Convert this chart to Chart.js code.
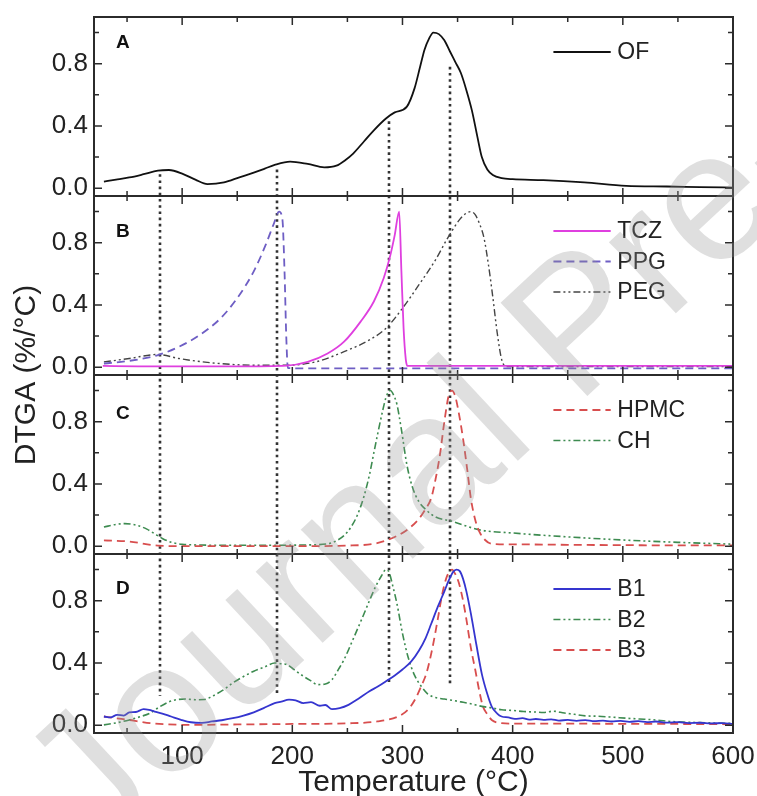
<!DOCTYPE html>
<html>
<head>
<meta charset="utf-8">
<title>DTGA</title>
<script src="https://cdn.jsdelivr.net/npm/chart.js@4.4.1/dist/chart.umd.min.js"></script>
<style>
  html, body { margin: 0; padding: 0; background: #fff; }
  canvas { display: block; }
</style>
</head>
<body>
<canvas id="dtgaChart" width="757" height="796"></canvas>
<script>
// Normalised DTGA curves (%/°C) against temperature (°C)

// A: oral film
const ofTemp = [29, 40, 52, 65, 78, 88, 101, 112, 123, 138, 152, 165, 175, 184, 198, 214, 229, 240, 248, 255,
  265, 274, 285, 293, 304, 311, 316, 320, 324, 328, 333, 338, 343, 348, 353, 358, 363, 368, 372, 377,
  382, 390, 400, 428, 465, 503, 540, 570, 600];
const ofDtga = [0.043, 0.055, 0.069, 0.09, 0.113, 0.117, 0.091, 0.055, 0.026, 0.037, 0.07, 0.10, 0.126, 0.15, 0.171, 0.156, 0.134, 0.145, 0.18, 0.221,
  0.30, 0.372, 0.448, 0.487, 0.524, 0.643, 0.78, 0.89, 0.96, 1.0, 0.99, 0.95, 0.88, 0.81, 0.74, 0.63, 0.50, 0.33, 0.20, 0.12,
  0.085, 0.065, 0.058, 0.052, 0.037, 0.015, 0.011, 0.007, 0.004];

// B: drug and plasticisers
const tczTemp = [28, 60, 100, 150, 195, 214, 232, 247, 262, 274, 283, 289, 293, 297, 299, 301, 303, 304.5, 330, 400, 500, 600];
const tczDtga = [0.008, 0.006, 0.005, 0.005, 0.01, 0.034, 0.088, 0.164, 0.293, 0.422, 0.573, 0.72, 0.85, 1.0, 0.62, 0.25, 0.05, 0.008, 0.008, 0.008, 0.008, 0.008];

const ppgTemp = [29, 52, 78, 97, 116, 135, 150, 165, 176, 183, 188, 191, 193, 194.5, 196, 220, 300, 400, 500, 600];
const ppgDtga = [0.024, 0.041, 0.078, 0.131, 0.207, 0.315, 0.444, 0.616, 0.789, 0.918, 1.0, 0.95, 0.6, 0.2, -0.005, -0.008, -0.008, -0.008, -0.008, -0.008];

const pegTemp = [29, 52, 78, 97, 127, 165, 195, 221, 247, 270, 285, 300, 315, 330, 341, 352, 358, 362, 366, 370,
  374, 378, 382, 386, 390, 394, 420, 500, 600];
const pegDtga = [0.034, 0.056, 0.082, 0.056, 0.028, 0.013, 0.013, 0.034, 0.10, 0.175, 0.25, 0.379, 0.53, 0.69, 0.83, 0.95, 0.99, 1.0, 0.98, 0.92,
  0.83, 0.66, 0.45, 0.22, 0.05, 0.005, 0.005, 0.005, 0.005];

// C: film-forming polymers
const hpmcTemp = [29, 52, 78, 108, 150, 200, 250, 277, 296, 306, 315, 321, 326, 330, 334, 338, 342, 345, 348, 351,
  355, 359, 362, 366, 370, 375, 381, 400, 450, 500, 550, 600];
const hpmcDtga = [0.037, 0.03, 0.004, 0.0, 0.0, 0.0, 0.004, 0.02, 0.07, 0.115, 0.177, 0.24, 0.307, 0.43, 0.587, 0.80, 0.97, 1.0, 0.96, 0.86,
  0.69, 0.48, 0.31, 0.17, 0.09, 0.04, 0.015, 0.012, 0.009, 0.007, 0.005, 0.005];

const chTemp = [29, 40, 48, 59, 68, 75, 82, 90, 100, 108, 140, 180, 210, 232, 240, 247, 253, 259, 265, 270,
  274, 278, 282, 285, 289, 292, 295, 299, 304, 309, 315, 322, 330, 345, 370, 400, 450, 500, 550, 600];
const chDtga = [0.123, 0.14, 0.145, 0.134, 0.11, 0.08, 0.05, 0.026, 0.012, 0.009, 0.006, 0.006, 0.008, 0.015, 0.035, 0.069, 0.12, 0.199, 0.32, 0.458,
  0.6, 0.739, 0.87, 0.955, 1.0, 0.97, 0.91, 0.75, 0.523, 0.38, 0.285, 0.23, 0.188, 0.16, 0.105, 0.085, 0.06, 0.04, 0.025, 0.013];

// D: blends
const b1Temp = [29, 35, 41, 47, 52, 58, 65, 70, 75, 82, 90, 99, 108, 118, 127, 136, 146, 155, 165, 174,
  184, 190, 197, 203, 210, 217, 225, 230, 236, 243, 251, 260, 270, 278, 285, 293, 300, 308, 315, 321,
  326, 332, 338, 342, 346, 349, 352, 355, 358, 362, 367, 372, 377, 381, 386, 390, 396, 402, 409, 415,
  421, 428, 435, 442, 450, 458, 466, 474, 482, 490, 498, 506, 514, 522, 530, 540, 550, 560, 570, 580,
  590, 600];
const b1Dtga = [0.056, 0.05, 0.067, 0.062, 0.082, 0.085, 0.103, 0.098, 0.088, 0.075, 0.056, 0.035, 0.019, 0.015, 0.024, 0.032, 0.045, 0.06, 0.082, 0.11,
  0.142, 0.152, 0.164, 0.16, 0.142, 0.148, 0.125, 0.13, 0.103, 0.11, 0.131, 0.17, 0.218, 0.25, 0.282, 0.32, 0.358, 0.41, 0.48, 0.56,
  0.65, 0.76, 0.86, 0.93, 0.985, 1.0, 0.99, 0.94, 0.86, 0.72, 0.52, 0.33, 0.2, 0.12, 0.075, 0.056, 0.05, 0.041, 0.045, 0.036,
  0.04, 0.034, 0.038, 0.03, 0.034, 0.028, 0.033, 0.026, 0.03, 0.024, 0.028, 0.022, 0.026, 0.02, 0.024, 0.017, 0.02, 0.014, 0.016, 0.012,
  0.013, 0.009];

const b2Temp = [29, 40, 52, 62, 71, 80, 88, 95, 103, 112, 120, 127, 137, 146, 155, 165, 175, 184, 190, 195,
  202, 210, 217, 223, 230, 236, 242, 247, 255, 263, 270, 276, 281, 285, 288, 291, 295, 300, 305, 311,
  317, 323, 330, 338, 345, 353, 362, 372, 382, 390, 400, 410, 420, 428, 437, 447, 456, 466, 476, 490,
  503, 515, 528, 540, 555, 570, 585, 600];
const b2Dtga = [0.002, 0.015, 0.034, 0.055, 0.078, 0.12, 0.15, 0.164, 0.168, 0.164, 0.165, 0.185, 0.225, 0.272, 0.31, 0.347, 0.375, 0.40, 0.395, 0.39,
  0.355, 0.315, 0.285, 0.261, 0.265, 0.293, 0.36, 0.422, 0.55, 0.681, 0.8, 0.897, 0.96, 1.0, 0.98, 0.9, 0.78, 0.59, 0.44, 0.32,
  0.25, 0.2, 0.178, 0.168, 0.16, 0.15, 0.138, 0.121, 0.11, 0.099, 0.095, 0.088, 0.085, 0.082, 0.09, 0.078, 0.07, 0.06, 0.058, 0.052,
  0.045, 0.04, 0.035, 0.026, 0.02, 0.017, 0.014, 0.012];

const b3Temp = [29, 40, 52, 62, 71, 85, 108, 150, 200, 250, 277, 296, 305, 311, 317, 322, 327, 332, 336, 340,
  343, 345, 348, 351, 355, 358, 362, 366, 370, 373, 377, 381, 390, 400, 450, 500, 550, 600];
const b3Dtga = [0.056, 0.045, 0.034, 0.022, 0.013, 0.006, 0.002, 0.005, 0.008, 0.012, 0.024, 0.056, 0.1, 0.16, 0.25, 0.34, 0.49, 0.68, 0.84, 0.95,
  0.99, 1.0, 0.97, 0.918, 0.8, 0.68, 0.5, 0.358, 0.21, 0.121, 0.07, 0.034, 0.013, 0.01, 0.01, 0.009, 0.008, 0.006];

// dotted guide lines at the film's decomposition steps
const markerTemps = [80, 186, 288, 343];
const markerTop = [0.09, 0.12, 0.43, 0.78];
const markerBottom = [0.19, 0.19, 0.27, 0.27];

const xTicks = [100, 200, 300, 400, 500, 600];
const xMinorTicks = [50, 150, 250, 350, 450, 550];
const yTicks = [0.0, 0.4, 0.8];
const yMinorTicks = [0.2, 0.6, 1.0];
const panelLetters = ['A', 'B', 'C', 'D'];

const FONT = "'Liberation Sans', Arial, Helvetica, sans-serif";
const INK = '#222';
const DASH = [8, 5];
const DASH_DOT_DOT = [7, 3, 2, 3, 2, 3];

function toPoints(temps, values) {
  return temps.map((t, i) => ({ x: t, y: values[i] }));
}

function series(label, temps, values, axis, color, dash, width) {
  return {
    label,
    data: toPoints(temps, values),
    yAxisID: axis,
    borderColor: color,
    borderDash: dash || [],
    borderWidth: width || 1.8,
    pointRadius: 0,
    fill: false,
    cubicInterpolationMode: 'monotone'
  };
}

function panelAxis(weight) {
  return {
    type: 'linear',
    position: 'left',
    stack: 'panels',
    stackWeight: 1,
    weight: weight,
    min: -0.05,
    max: 1.1,
    afterBuildTicks: s => { s.ticks = yTicks.map(v => ({ value: v })); },
    afterFit: s => { s.width = 94; s.paddingTop = 0; s.paddingBottom = 0; },
    grid: { display: false, drawTicks: false },
    border: { display: false },
    ticks: {
      padding: 6,
      color: INK,
      font: { family: FONT, size: 26 },
      callback: v => v.toFixed(1)
    }
  };
}

const panelIds = ['yA', 'yB', 'yC', 'yD'];

// frames, inward ticks, guide lines, panel letters, legends and titles
const panelDecor = {
  id: 'panelDecor',
  beforeDatasetsDraw(chart) {
    const { ctx, scales } = chart;
    const x = scales.x;
    ctx.save();
    ctx.strokeStyle = '#333';
    ctx.lineWidth = 2.6;
    ctx.setLineDash([2.6, 3.6]);
    markerTemps.forEach((t, i) => {
      const px = Math.round(x.getPixelForValue(t));
      ctx.beginPath();
      ctx.moveTo(px, scales.yA.getPixelForValue(markerTop[i]));
      ctx.lineTo(px, scales.yD.getPixelForValue(markerBottom[i]));
      ctx.stroke();
    });
    ctx.restore();
  },
  afterDatasetsDraw(chart) {
    const { ctx, scales } = chart;
    const x = scales.x;
    const letterDrop = [26, 36, 39, 35];
    ctx.save();
    panelIds.forEach((id, p) => {
      const y = scales[id];
      const top = y.top, bottom = y.bottom, left = x.left, right = x.right;

      ctx.strokeStyle = '#2b2b2b';
      ctx.lineWidth = 1.5;
      ctx.beginPath();
      const tick = (vals, len) => {
        vals.forEach(v => {
          const px = x.getPixelForValue(v);
          ctx.moveTo(px, top); ctx.lineTo(px, top + len);
          ctx.moveTo(px, bottom); ctx.lineTo(px, bottom - len);
        });
      };
      const ytick = (vals, len) => {
        vals.forEach(v => {
          const py = y.getPixelForValue(v);
          ctx.moveTo(left, py); ctx.lineTo(left + len, py);
          ctx.moveTo(right, py); ctx.lineTo(right - len, py);
        });
      };
      tick(xTicks, 8);
      tick(xMinorTicks, 5);
      ytick(yTicks, 8);
      ytick(yMinorTicks, 5);
      ctx.stroke();

      ctx.lineWidth = 2;
      ctx.strokeRect(left, top, right - left, bottom - top);

      ctx.fillStyle = '#111';
      ctx.font = `bold 19px ${FONT}`;
      ctx.textAlign = 'left';
      ctx.textBaseline = 'middle';
      ctx.fillText(panelLetters[p], left + 22, top + letterDrop[p]);

      // legend for the curves of this panel
      const sets = chart.data.datasets.filter(d => d.yAxisID === id);
      const x0 = x.getPixelForValue(437), x1 = x.getPixelForValue(489), xt = x.getPixelForValue(495);
      sets.forEach((d, i) => {
        const ly = top + 35 + i * 30.5;
        ctx.save();
        ctx.strokeStyle = d.borderColor;
        ctx.lineWidth = d.borderWidth;
        ctx.setLineDash(d.borderDash);
        ctx.beginPath();
        ctx.moveTo(x0, ly);
        ctx.lineTo(x1, ly);
        ctx.stroke();
        ctx.restore();
        ctx.fillStyle = INK;
        ctx.font = `23px ${FONT}`;
        ctx.textBaseline = 'middle';
        ctx.fillText(d.label, xt, ly + 1);
      });
    });
    ctx.restore();
  },
  afterDraw(chart) {
    const { ctx, chartArea } = chart;
    ctx.save();
    ctx.fillStyle = INK;
    ctx.font = `30px ${FONT}`;
    ctx.textAlign = 'center';
    ctx.textBaseline = 'alphabetic';
    ctx.fillText('Temperature (°C)', (chartArea.left + chartArea.right) / 2, 791);

    ctx.translate(35, (chartArea.top + chartArea.bottom) / 2);
    ctx.rotate(-Math.PI / 2);
    ctx.fillText('DTGA (%/°C)', 0, 0);
    ctx.restore();

    // journal watermark
    ctx.save();
    ctx.translate(95, 855);
    ctx.rotate(-43 * Math.PI / 180);
    ctx.font = `185px ${FONT}`;
    ctx.fillStyle = 'rgba(150,150,150,0.3)';
    ctx.textAlign = 'left';
    ctx.textBaseline = 'alphabetic';
    ctx.fillText('Journal Pre-proof', 0, 0);
    ctx.restore();
  }
};

new Chart(document.getElementById('dtgaChart'), {
  type: 'line',
  data: {
    datasets: [
      series('OF', ofTemp, ofDtga, 'yA', '#111111', null, 1.8),
      series('TCZ', tczTemp, tczDtga, 'yB', '#df3fdf', null, 1.8),
      series('PPG', ppgTemp, ppgDtga, 'yB', '#6e5ec4', DASH, 1.8),
      series('PEG', pegTemp, pegDtga, 'yB', '#444444', DASH_DOT_DOT, 1.4),
      series('HPMC', hpmcTemp, hpmcDtga, 'yC', '#d84e4e', DASH, 1.8),
      series('CH', chTemp, chDtga, 'yC', '#3d8b50', DASH_DOT_DOT, 1.6),
      series('B1', b1Temp, b1Dtga, 'yD', '#3535cf', null, 1.8),
      series('B2', b2Temp, b2Dtga, 'yD', '#3d8b50', DASH_DOT_DOT, 1.6),
      series('B3', b3Temp, b3Dtga, 'yD', '#d84e4e', DASH, 1.8)
    ]
  },
  options: {
    responsive: false,
    animation: false,
    events: [],
    layout: { padding: { top: 17, right: 24, left: 0, bottom: 0 } },
    plugins: { legend: { display: false }, tooltip: { enabled: false } },
    scales: {
      x: {
        type: 'linear',
        min: 20,
        max: 600,
        afterBuildTicks: s => { s.ticks = xTicks.map(v => ({ value: v })); },
        afterFit: s => { s.height = 63; s.paddingLeft = 0; s.paddingRight = 0; },
        grid: { display: false, drawTicks: false },
        border: { display: false },
        ticks: { padding: 8, maxRotation: 0, color: INK, font: { family: FONT, size: 26 } }
      },
      yA: panelAxis(4),
      yB: panelAxis(3),
      yC: panelAxis(2),
      yD: panelAxis(1)
    }
  },
  plugins: [panelDecor]
});
</script>
</body>
</html>
